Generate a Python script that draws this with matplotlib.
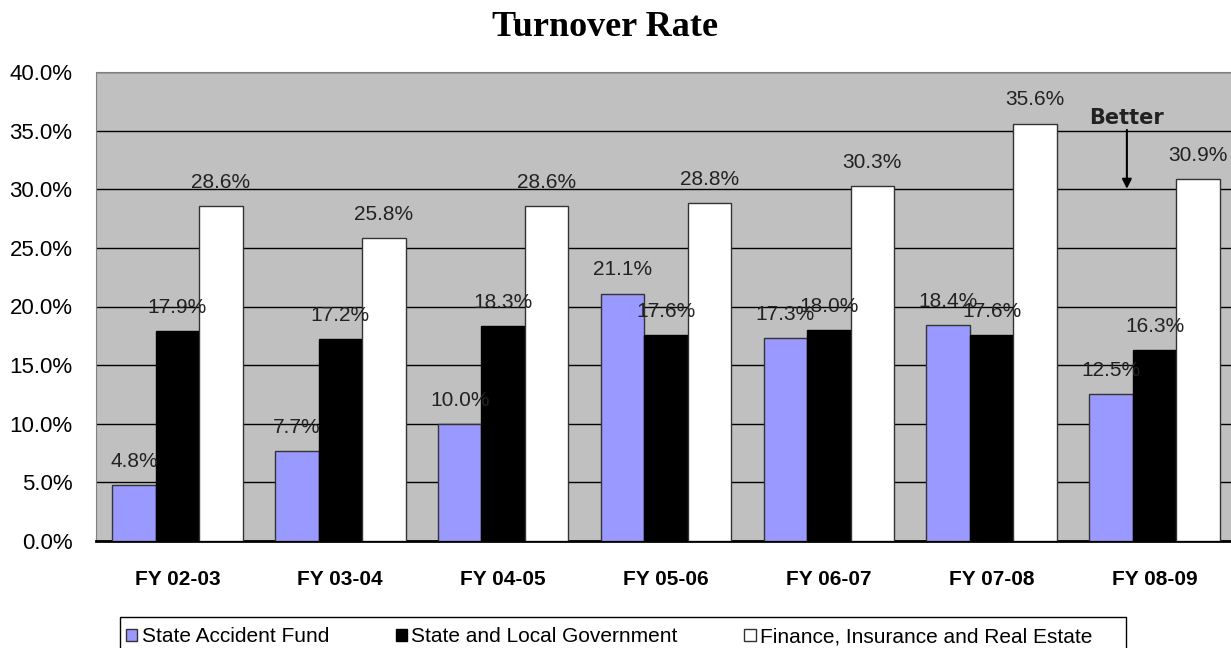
import matplotlib.pyplot as plt
from matplotlib.patches import Rectangle
import numpy as np

plt.rcParams['font.family'] = ['Liberation Sans', 'DejaVu Sans']

# data
years = ['FY 02-03', 'FY 03-04', 'FY 04-05', 'FY 05-06', 'FY 06-07', 'FY 07-08', 'FY 08-09']
saf = [4.8, 7.7, 10.0, 21.1, 17.3, 18.4, 12.5]
slg = [17.9, 17.2, 18.3, 17.6, 18.0, 17.6, 16.3]
fire = [28.6, 25.8, 28.6, 28.8, 30.3, 35.6, 30.9]
series_names = ['State Accident Fund', 'State and Local Government',
                'Finance, Insurance and Real Estate']

fig = plt.figure(figsize=(12.31, 6.48), dpi=100)
ax = fig.add_axes([96 / 1231, 107 / 648, 1140 / 1231, 469 / 648])
ax.set_facecolor('#C0C0C0')

x = np.arange(len(years))
w = 0.267
series = [
    (saf, -w, '#9999FF', '#333333'),
    (slg, 0, '#000000', '#000000'),
    (fire, w, '#FFFFFF', '#333333'),
]
for (vals, off, fc, ec), name in zip(series, series_names):
    ax.bar(x + off, vals, w, color=fc, edgecolor=ec, linewidth=1, label=name, zorder=3)
    for xi, v in zip(x + off, vals):
        ax.annotate('%.1f%%' % v, (xi, v), xytext=(0, 17), textcoords='offset points',
                    ha='center', va='center', fontsize=15, color='#222222', zorder=4)

ax.set_ylim(0, 40)
ax.set_xlim(-0.5, 6.5)
ax.set_yticks(np.arange(0, 41, 5))
ax.set_yticklabels(['%.1f%%' % t for t in np.arange(0, 41, 5)], fontsize=16)
ax.set_xticks(x)
ax.set_xticklabels(years, fontsize=15, fontweight='bold')
ax.tick_params(axis='y', length=0, pad=17)
ax.tick_params(axis='x', length=0, pad=21)
ax.yaxis.grid(True, color='black', linewidth=1.0, zorder=1)
ax.set_axisbelow(True)
for s in ['left', 'top', 'right']:
    ax.spines[s].set_color('#808080')
ax.spines['bottom'].set_linewidth(2)
ax.spines['bottom'].set_color('black')

# "Better" arrow
ax.annotate('', xy=(5.83, 29.8), xytext=(5.83, 35.3),
            arrowprops=dict(arrowstyle='-|>', color='black', lw=1.5, mutation_scale=14), zorder=5)
ax.text(5.83, 36.1, 'Better', ha='center', va='center', fontsize=15, fontweight='bold',
        family='DejaVu Sans', color='#222222', zorder=5)

fig.text(605 / 1231, 1 - 28 / 648, 'Turnover Rate', ha='center', va='center',
         fontsize=26, fontweight='bold', family='Liberation Serif')

# legend: box drawn separately, runs off the bottom edge like the original
fig.patches.append(Rectangle((120 / 1231, -0.05), 1006 / 1231, 0.05 + 31 / 648,
                             transform=fig.transFigure, facecolor='white',
                             edgecolor='black', linewidth=1, zorder=0))
leg = fig.legend(loc='center left', bbox_to_anchor=(126 / 1231, 1 - 637 / 648),
                 ncol=3, fontsize=15, frameon=False, borderpad=0, borderaxespad=0,
                 handlelength=0.55, handleheight=0.55, handletextpad=0.2,
                 columnspacing=3.2)

fig.savefig('out.png', dpi=100)
